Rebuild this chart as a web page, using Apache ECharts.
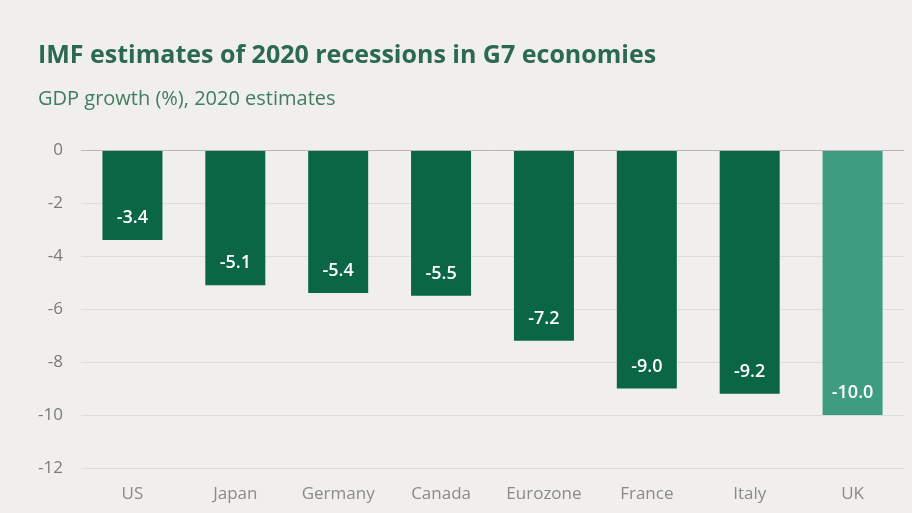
<!DOCTYPE html>
<html><head><meta charset="utf-8">
<script src="https://cdn.jsdelivr.net/npm/echarts@6/dist/echarts.min.js"></script>
<style>html,body{margin:0;padding:0;background:#f0efed;}#c{width:912px;height:513px;}</style>
</head><body><div id="c"></div>
<script>
const categories = ['US','Japan','Germany','Canada','Eurozone','France','Italy','UK'];
const values = [-3.4,-5.1,-5.4,-5.5,-7.2,-9.0,-9.2,-10.0];
const highlight = ['UK'];
const yTicks = [0,-2,-4,-6,-8,-10,-12];

const chart = echarts.init(document.getElementById('c'));
chart.setOption({
  backgroundColor: '#f0efed',
  animation: false,
  title: [
    {text: 'IMF estimates of 2020 recessions in G7 economies', left: 33, top: 38,
     textStyle: {fontFamily: 'Open Sans', fontWeight: 'bold', fontSize: 25, color: '#2b6a4e'}},
    {text: 'GDP growth (%), 2020 estimates', left: 33, top: 84,
     textStyle: {fontFamily: 'Open Sans', fontWeight: 'normal', fontSize: 20, color: '#3f7d5f'}}
  ],
  grid: {left: 81, right: 8, top: 150, bottom: 45, containLabel: false},
  xAxis: {
    type: 'category', data: categories, position: 'bottom',
    axisLine: {show: false}, axisTick: {show: false},
    axisLabel: {interval: 0, hideOverlap: false, fontFamily: 'Open Sans', fontSize: 17, color: '#8a8a8a', margin: 18}
  },
  yAxis: {
    type: 'value', min: -12, max: 0, interval: 2,
    axisLine: {show: false}, axisTick: {show: false},
    axisLabel: {fontFamily: 'Open Sans', fontSize: 17, color: '#7a7a7a', margin: 18},
    splitLine: {lineStyle: {color: '#dddbd9', width: 1}}
  },
  series: [{
    type: 'bar', barWidth: 60,
    data: values.map((v, i) => ({
      value: v,
      itemStyle: {color: highlight.includes(categories[i]) ? '#3e9c80' : '#0b6646'}
    })),
    label: {
      show: true, position: 'insideBottom', distance: 13,
      fontFamily: 'Open Sans', fontWeight: 600, fontSize: 18, color: '#ffffff',
      formatter: p => p.value.toFixed(1)
    },
    markLine: {
      silent: true, symbol: 'none', label: {show: false},
      lineStyle: {color: '#b8b6b4', type: 'solid', width: 1},
      data: [{yAxis: 0}]
    }
  }]
});
</script></body></html>
